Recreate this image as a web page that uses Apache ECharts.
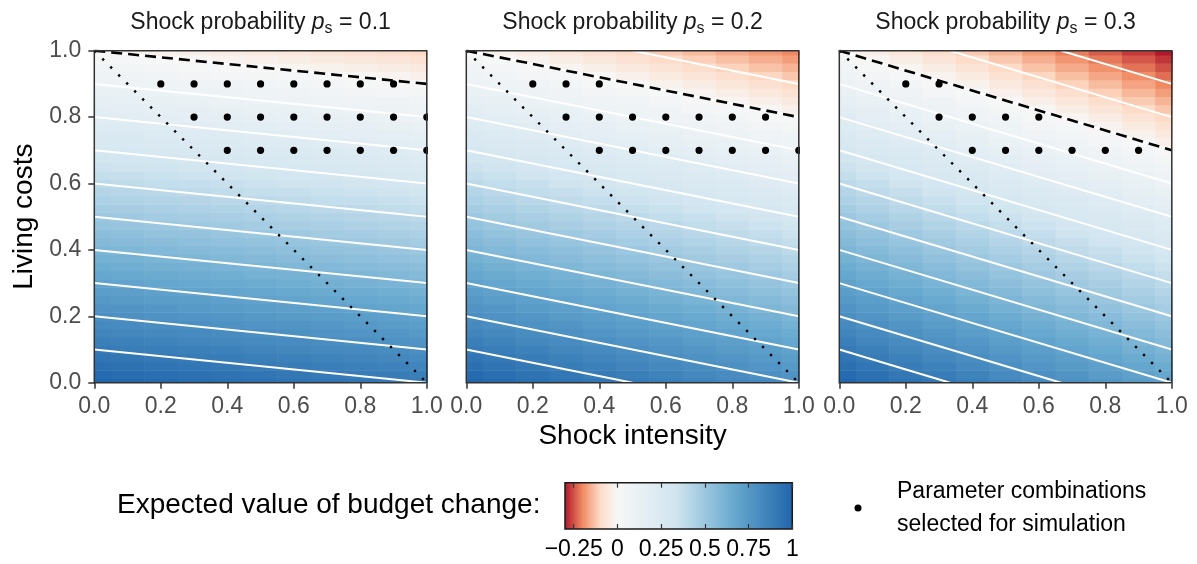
<!DOCTYPE html>
<html>
<head>
<meta charset="utf-8">
<script src="https://cdn.jsdelivr.net/npm/echarts@6/dist/echarts.min.js"></script>
<style>
  html, body { margin: 0; padding: 0; background: #fff; }
  #chart { width: 1197px; height: 564px; }
</style>
</head>
<body>
<div id="chart"></div>
<script>
var FONT = '"Liberation Sans", Arial, Helvetica, sans-serif';

// panels: shock probability
var shockProb = [0.1, 0.2, 0.3];

// grid of the heat map (x = shock intensity, y = living costs)
var shockIntensity = [0, 0.1, 0.2, 0.3, 0.4, 0.5, 0.6, 0.7, 0.8, 0.9, 1];
var livingCosts = [0, 0.025, 0.05, 0.075, 0.1, 0.125, 0.15, 0.175, 0.2, 0.225, 0.25,
                   0.275, 0.3, 0.325, 0.35, 0.375, 0.4, 0.425, 0.45, 0.475, 0.5,
                   0.525, 0.55, 0.575, 0.6, 0.625, 0.65, 0.675, 0.7, 0.725, 0.75,
                   0.775, 0.8, 0.825, 0.85, 0.875, 0.9, 0.925, 0.95, 0.975, 1];

// expected value of budget change, one row per living-costs value
var budgetChange1 = [
  [1.000, 0.990, 0.980, 0.970, 0.960, 0.950, 0.940, 0.930, 0.920, 0.910, 0.900],
  [0.975, 0.965, 0.955, 0.945, 0.935, 0.925, 0.915, 0.905, 0.895, 0.885, 0.875],
  [0.950, 0.940, 0.930, 0.920, 0.910, 0.900, 0.890, 0.880, 0.870, 0.860, 0.850],
  [0.925, 0.915, 0.905, 0.895, 0.885, 0.875, 0.865, 0.855, 0.845, 0.835, 0.825],
  [0.900, 0.890, 0.880, 0.870, 0.860, 0.850, 0.840, 0.830, 0.820, 0.810, 0.800],
  [0.875, 0.865, 0.855, 0.845, 0.835, 0.825, 0.815, 0.805, 0.795, 0.785, 0.775],
  [0.850, 0.840, 0.830, 0.820, 0.810, 0.800, 0.790, 0.780, 0.770, 0.760, 0.750],
  [0.825, 0.815, 0.805, 0.795, 0.785, 0.775, 0.765, 0.755, 0.745, 0.735, 0.725],
  [0.800, 0.790, 0.780, 0.770, 0.760, 0.750, 0.740, 0.730, 0.720, 0.710, 0.700],
  [0.775, 0.765, 0.755, 0.745, 0.735, 0.725, 0.715, 0.705, 0.695, 0.685, 0.675],
  [0.750, 0.740, 0.730, 0.720, 0.710, 0.700, 0.690, 0.680, 0.670, 0.660, 0.650],
  [0.725, 0.715, 0.705, 0.695, 0.685, 0.675, 0.665, 0.655, 0.645, 0.635, 0.625],
  [0.700, 0.690, 0.680, 0.670, 0.660, 0.650, 0.640, 0.630, 0.620, 0.610, 0.600],
  [0.675, 0.665, 0.655, 0.645, 0.635, 0.625, 0.615, 0.605, 0.595, 0.585, 0.575],
  [0.650, 0.640, 0.630, 0.620, 0.610, 0.600, 0.590, 0.580, 0.570, 0.560, 0.550],
  [0.625, 0.615, 0.605, 0.595, 0.585, 0.575, 0.565, 0.555, 0.545, 0.535, 0.525],
  [0.600, 0.590, 0.580, 0.570, 0.560, 0.550, 0.540, 0.530, 0.520, 0.510, 0.500],
  [0.575, 0.565, 0.555, 0.545, 0.535, 0.525, 0.515, 0.505, 0.495, 0.485, 0.475],
  [0.550, 0.540, 0.530, 0.520, 0.510, 0.500, 0.490, 0.480, 0.470, 0.460, 0.450],
  [0.525, 0.515, 0.505, 0.495, 0.485, 0.475, 0.465, 0.455, 0.445, 0.435, 0.425],
  [0.500, 0.490, 0.480, 0.470, 0.460, 0.450, 0.440, 0.430, 0.420, 0.410, 0.400],
  [0.475, 0.465, 0.455, 0.445, 0.435, 0.425, 0.415, 0.405, 0.395, 0.385, 0.375],
  [0.450, 0.440, 0.430, 0.420, 0.410, 0.400, 0.390, 0.380, 0.370, 0.360, 0.350],
  [0.425, 0.415, 0.405, 0.395, 0.385, 0.375, 0.365, 0.355, 0.345, 0.335, 0.325],
  [0.400, 0.390, 0.380, 0.370, 0.360, 0.350, 0.340, 0.330, 0.320, 0.310, 0.300],
  [0.375, 0.365, 0.355, 0.345, 0.335, 0.325, 0.315, 0.305, 0.295, 0.285, 0.275],
  [0.350, 0.340, 0.330, 0.320, 0.310, 0.300, 0.290, 0.280, 0.270, 0.260, 0.250],
  [0.325, 0.315, 0.305, 0.295, 0.285, 0.275, 0.265, 0.255, 0.245, 0.235, 0.225],
  [0.300, 0.290, 0.280, 0.270, 0.260, 0.250, 0.240, 0.230, 0.220, 0.210, 0.200],
  [0.275, 0.265, 0.255, 0.245, 0.235, 0.225, 0.215, 0.205, 0.195, 0.185, 0.175],
  [0.250, 0.240, 0.230, 0.220, 0.210, 0.200, 0.190, 0.180, 0.170, 0.160, 0.150],
  [0.225, 0.215, 0.205, 0.195, 0.185, 0.175, 0.165, 0.155, 0.145, 0.135, 0.125],
  [0.200, 0.190, 0.180, 0.170, 0.160, 0.150, 0.140, 0.130, 0.120, 0.110, 0.100],
  [0.175, 0.165, 0.155, 0.145, 0.135, 0.125, 0.115, 0.105, 0.095, 0.085, 0.075],
  [0.150, 0.140, 0.130, 0.120, 0.110, 0.100, 0.090, 0.080, 0.070, 0.060, 0.050],
  [0.125, 0.115, 0.105, 0.095, 0.085, 0.075, 0.065, 0.055, 0.045, 0.035, 0.025],
  [0.100, 0.090, 0.080, 0.070, 0.060, 0.050, 0.040, 0.030, 0.020, 0.010, 0.000],
  [0.075, 0.065, 0.055, 0.045, 0.035, 0.025, 0.015, 0.005, -0.005, -0.015, -0.025],
  [0.050, 0.040, 0.030, 0.020, 0.010, 0.000, -0.010, -0.020, -0.030, -0.040, -0.050],
  [0.025, 0.015, 0.005, -0.005, -0.015, -0.025, -0.035, -0.045, -0.055, -0.065, -0.075],
  [0.000, -0.010, -0.020, -0.030, -0.040, -0.050, -0.060, -0.070, -0.080, -0.090, -0.100]
];
var budgetChange2 = [
  [1.000, 0.980, 0.960, 0.940, 0.920, 0.900, 0.880, 0.860, 0.840, 0.820, 0.800],
  [0.975, 0.955, 0.935, 0.915, 0.895, 0.875, 0.855, 0.835, 0.815, 0.795, 0.775],
  [0.950, 0.930, 0.910, 0.890, 0.870, 0.850, 0.830, 0.810, 0.790, 0.770, 0.750],
  [0.925, 0.905, 0.885, 0.865, 0.845, 0.825, 0.805, 0.785, 0.765, 0.745, 0.725],
  [0.900, 0.880, 0.860, 0.840, 0.820, 0.800, 0.780, 0.760, 0.740, 0.720, 0.700],
  [0.875, 0.855, 0.835, 0.815, 0.795, 0.775, 0.755, 0.735, 0.715, 0.695, 0.675],
  [0.850, 0.830, 0.810, 0.790, 0.770, 0.750, 0.730, 0.710, 0.690, 0.670, 0.650],
  [0.825, 0.805, 0.785, 0.765, 0.745, 0.725, 0.705, 0.685, 0.665, 0.645, 0.625],
  [0.800, 0.780, 0.760, 0.740, 0.720, 0.700, 0.680, 0.660, 0.640, 0.620, 0.600],
  [0.775, 0.755, 0.735, 0.715, 0.695, 0.675, 0.655, 0.635, 0.615, 0.595, 0.575],
  [0.750, 0.730, 0.710, 0.690, 0.670, 0.650, 0.630, 0.610, 0.590, 0.570, 0.550],
  [0.725, 0.705, 0.685, 0.665, 0.645, 0.625, 0.605, 0.585, 0.565, 0.545, 0.525],
  [0.700, 0.680, 0.660, 0.640, 0.620, 0.600, 0.580, 0.560, 0.540, 0.520, 0.500],
  [0.675, 0.655, 0.635, 0.615, 0.595, 0.575, 0.555, 0.535, 0.515, 0.495, 0.475],
  [0.650, 0.630, 0.610, 0.590, 0.570, 0.550, 0.530, 0.510, 0.490, 0.470, 0.450],
  [0.625, 0.605, 0.585, 0.565, 0.545, 0.525, 0.505, 0.485, 0.465, 0.445, 0.425],
  [0.600, 0.580, 0.560, 0.540, 0.520, 0.500, 0.480, 0.460, 0.440, 0.420, 0.400],
  [0.575, 0.555, 0.535, 0.515, 0.495, 0.475, 0.455, 0.435, 0.415, 0.395, 0.375],
  [0.550, 0.530, 0.510, 0.490, 0.470, 0.450, 0.430, 0.410, 0.390, 0.370, 0.350],
  [0.525, 0.505, 0.485, 0.465, 0.445, 0.425, 0.405, 0.385, 0.365, 0.345, 0.325],
  [0.500, 0.480, 0.460, 0.440, 0.420, 0.400, 0.380, 0.360, 0.340, 0.320, 0.300],
  [0.475, 0.455, 0.435, 0.415, 0.395, 0.375, 0.355, 0.335, 0.315, 0.295, 0.275],
  [0.450, 0.430, 0.410, 0.390, 0.370, 0.350, 0.330, 0.310, 0.290, 0.270, 0.250],
  [0.425, 0.405, 0.385, 0.365, 0.345, 0.325, 0.305, 0.285, 0.265, 0.245, 0.225],
  [0.400, 0.380, 0.360, 0.340, 0.320, 0.300, 0.280, 0.260, 0.240, 0.220, 0.200],
  [0.375, 0.355, 0.335, 0.315, 0.295, 0.275, 0.255, 0.235, 0.215, 0.195, 0.175],
  [0.350, 0.330, 0.310, 0.290, 0.270, 0.250, 0.230, 0.210, 0.190, 0.170, 0.150],
  [0.325, 0.305, 0.285, 0.265, 0.245, 0.225, 0.205, 0.185, 0.165, 0.145, 0.125],
  [0.300, 0.280, 0.260, 0.240, 0.220, 0.200, 0.180, 0.160, 0.140, 0.120, 0.100],
  [0.275, 0.255, 0.235, 0.215, 0.195, 0.175, 0.155, 0.135, 0.115, 0.095, 0.075],
  [0.250, 0.230, 0.210, 0.190, 0.170, 0.150, 0.130, 0.110, 0.090, 0.070, 0.050],
  [0.225, 0.205, 0.185, 0.165, 0.145, 0.125, 0.105, 0.085, 0.065, 0.045, 0.025],
  [0.200, 0.180, 0.160, 0.140, 0.120, 0.100, 0.080, 0.060, 0.040, 0.020, 0.000],
  [0.175, 0.155, 0.135, 0.115, 0.095, 0.075, 0.055, 0.035, 0.015, -0.005, -0.025],
  [0.150, 0.130, 0.110, 0.090, 0.070, 0.050, 0.030, 0.010, -0.010, -0.030, -0.050],
  [0.125, 0.105, 0.085, 0.065, 0.045, 0.025, 0.005, -0.015, -0.035, -0.055, -0.075],
  [0.100, 0.080, 0.060, 0.040, 0.020, 0.000, -0.020, -0.040, -0.060, -0.080, -0.100],
  [0.075, 0.055, 0.035, 0.015, -0.005, -0.025, -0.045, -0.065, -0.085, -0.105, -0.125],
  [0.050, 0.030, 0.010, -0.010, -0.030, -0.050, -0.070, -0.090, -0.110, -0.130, -0.150],
  [0.025, 0.005, -0.015, -0.035, -0.055, -0.075, -0.095, -0.115, -0.135, -0.155, -0.175],
  [0.000, -0.020, -0.040, -0.060, -0.080, -0.100, -0.120, -0.140, -0.160, -0.180, -0.200]
];
var budgetChange3 = [
  [1.000, 0.970, 0.940, 0.910, 0.880, 0.850, 0.820, 0.790, 0.760, 0.730, 0.700],
  [0.975, 0.945, 0.915, 0.885, 0.855, 0.825, 0.795, 0.765, 0.735, 0.705, 0.675],
  [0.950, 0.920, 0.890, 0.860, 0.830, 0.800, 0.770, 0.740, 0.710, 0.680, 0.650],
  [0.925, 0.895, 0.865, 0.835, 0.805, 0.775, 0.745, 0.715, 0.685, 0.655, 0.625],
  [0.900, 0.870, 0.840, 0.810, 0.780, 0.750, 0.720, 0.690, 0.660, 0.630, 0.600],
  [0.875, 0.845, 0.815, 0.785, 0.755, 0.725, 0.695, 0.665, 0.635, 0.605, 0.575],
  [0.850, 0.820, 0.790, 0.760, 0.730, 0.700, 0.670, 0.640, 0.610, 0.580, 0.550],
  [0.825, 0.795, 0.765, 0.735, 0.705, 0.675, 0.645, 0.615, 0.585, 0.555, 0.525],
  [0.800, 0.770, 0.740, 0.710, 0.680, 0.650, 0.620, 0.590, 0.560, 0.530, 0.500],
  [0.775, 0.745, 0.715, 0.685, 0.655, 0.625, 0.595, 0.565, 0.535, 0.505, 0.475],
  [0.750, 0.720, 0.690, 0.660, 0.630, 0.600, 0.570, 0.540, 0.510, 0.480, 0.450],
  [0.725, 0.695, 0.665, 0.635, 0.605, 0.575, 0.545, 0.515, 0.485, 0.455, 0.425],
  [0.700, 0.670, 0.640, 0.610, 0.580, 0.550, 0.520, 0.490, 0.460, 0.430, 0.400],
  [0.675, 0.645, 0.615, 0.585, 0.555, 0.525, 0.495, 0.465, 0.435, 0.405, 0.375],
  [0.650, 0.620, 0.590, 0.560, 0.530, 0.500, 0.470, 0.440, 0.410, 0.380, 0.350],
  [0.625, 0.595, 0.565, 0.535, 0.505, 0.475, 0.445, 0.415, 0.385, 0.355, 0.325],
  [0.600, 0.570, 0.540, 0.510, 0.480, 0.450, 0.420, 0.390, 0.360, 0.330, 0.300],
  [0.575, 0.545, 0.515, 0.485, 0.455, 0.425, 0.395, 0.365, 0.335, 0.305, 0.275],
  [0.550, 0.520, 0.490, 0.460, 0.430, 0.400, 0.370, 0.340, 0.310, 0.280, 0.250],
  [0.525, 0.495, 0.465, 0.435, 0.405, 0.375, 0.345, 0.315, 0.285, 0.255, 0.225],
  [0.500, 0.470, 0.440, 0.410, 0.380, 0.350, 0.320, 0.290, 0.260, 0.230, 0.200],
  [0.475, 0.445, 0.415, 0.385, 0.355, 0.325, 0.295, 0.265, 0.235, 0.205, 0.175],
  [0.450, 0.420, 0.390, 0.360, 0.330, 0.300, 0.270, 0.240, 0.210, 0.180, 0.150],
  [0.425, 0.395, 0.365, 0.335, 0.305, 0.275, 0.245, 0.215, 0.185, 0.155, 0.125],
  [0.400, 0.370, 0.340, 0.310, 0.280, 0.250, 0.220, 0.190, 0.160, 0.130, 0.100],
  [0.375, 0.345, 0.315, 0.285, 0.255, 0.225, 0.195, 0.165, 0.135, 0.105, 0.075],
  [0.350, 0.320, 0.290, 0.260, 0.230, 0.200, 0.170, 0.140, 0.110, 0.080, 0.050],
  [0.325, 0.295, 0.265, 0.235, 0.205, 0.175, 0.145, 0.115, 0.085, 0.055, 0.025],
  [0.300, 0.270, 0.240, 0.210, 0.180, 0.150, 0.120, 0.090, 0.060, 0.030, 0.000],
  [0.275, 0.245, 0.215, 0.185, 0.155, 0.125, 0.095, 0.065, 0.035, 0.005, -0.025],
  [0.250, 0.220, 0.190, 0.160, 0.130, 0.100, 0.070, 0.040, 0.010, -0.020, -0.050],
  [0.225, 0.195, 0.165, 0.135, 0.105, 0.075, 0.045, 0.015, -0.015, -0.045, -0.075],
  [0.200, 0.170, 0.140, 0.110, 0.080, 0.050, 0.020, -0.010, -0.040, -0.070, -0.100],
  [0.175, 0.145, 0.115, 0.085, 0.055, 0.025, -0.005, -0.035, -0.065, -0.095, -0.125],
  [0.150, 0.120, 0.090, 0.060, 0.030, 0.000, -0.030, -0.060, -0.090, -0.120, -0.150],
  [0.125, 0.095, 0.065, 0.035, 0.005, -0.025, -0.055, -0.085, -0.115, -0.145, -0.175],
  [0.100, 0.070, 0.040, 0.010, -0.020, -0.050, -0.080, -0.110, -0.140, -0.170, -0.200],
  [0.075, 0.045, 0.015, -0.015, -0.045, -0.075, -0.105, -0.135, -0.165, -0.195, -0.225],
  [0.050, 0.020, -0.010, -0.040, -0.070, -0.100, -0.130, -0.160, -0.190, -0.220, -0.250],
  [0.025, -0.005, -0.035, -0.065, -0.095, -0.125, -0.155, -0.185, -0.215, -0.245, -0.275],
  [0.000, -0.030, -0.060, -0.090, -0.120, -0.150, -0.180, -0.210, -0.240, -0.270, -0.300]
];

// white contour lines (every 0.1), as [start, end] in data units
var contours1 = [
  [[0, 0.1], [1, 0.0]], [[0, 0.2], [1, 0.1]], [[0, 0.3], [1, 0.2]],
  [[0, 0.4], [1, 0.3]], [[0, 0.5], [1, 0.4]], [[0, 0.6], [1, 0.5]],
  [[0, 0.7], [1, 0.6]], [[0, 0.8], [1, 0.7]], [[0, 0.9], [1, 0.8]],
  [[0, 1.0], [1, 0.9]]
];
var contours2 = [
  [[0, 0.1], [0.5, 0.0]], [[0, 0.2], [1, 0.0]], [[0, 0.3], [1, 0.1]],
  [[0, 0.4], [1, 0.2]], [[0, 0.5], [1, 0.3]], [[0, 0.6], [1, 0.4]],
  [[0, 0.7], [1, 0.5]], [[0, 0.8], [1, 0.6]], [[0, 0.9], [1, 0.7]],
  [[0, 1.0], [1, 0.8]], [[0.5, 1.0], [1, 0.9]]
];
var contours3 = [
  [[0, 0.1], [0.333, 0.0]], [[0, 0.2], [0.667, 0.0]], [[0, 0.3], [1, 0.0]],
  [[0, 0.4], [1, 0.1]], [[0, 0.5], [1, 0.2]], [[0, 0.6], [1, 0.3]],
  [[0, 0.7], [1, 0.4]], [[0, 0.8], [1, 0.5]], [[0, 0.9], [1, 0.6]],
  [[0, 1.0], [1, 0.7]], [[0.333, 1.0], [1, 0.8]], [[0.667, 1.0], [1, 0.9]]
];

// zero line (dashed) and the diagonal (dotted)
var zeroLine1 = [[0, 1], [1, 0.9]];
var zeroLine2 = [[0, 1], [1, 0.8]];
var zeroLine3 = [[0, 1], [1, 0.7]];
var diagonal = [[0, 1], [1, 0]];

// parameter combinations selected for simulation: [shock intensity, living costs]
var selected1 = [
  [0.2, 0.9], [0.3, 0.9], [0.4, 0.9], [0.5, 0.9], [0.6, 0.9], [0.7, 0.9], [0.8, 0.9], [0.9, 0.9],
  [0.3, 0.8], [0.4, 0.8], [0.5, 0.8], [0.6, 0.8], [0.7, 0.8], [0.8, 0.8], [0.9, 0.8], [1.0, 0.8],
  [0.4, 0.7], [0.5, 0.7], [0.6, 0.7], [0.7, 0.7], [0.8, 0.7], [0.9, 0.7], [1.0, 0.7]
];
var selected2 = [
  [0.2, 0.9], [0.3, 0.9], [0.4, 0.9],
  [0.3, 0.8], [0.4, 0.8], [0.5, 0.8], [0.6, 0.8], [0.7, 0.8], [0.8, 0.8], [0.9, 0.8],
  [0.4, 0.7], [0.5, 0.7], [0.6, 0.7], [0.7, 0.7], [0.8, 0.7], [0.9, 0.7], [1.0, 0.7]
];
var selected3 = [
  [0.2, 0.9], [0.3, 0.9],
  [0.3, 0.8], [0.4, 0.8], [0.5, 0.8], [0.6, 0.8],
  [0.4, 0.7], [0.5, 0.7], [0.6, 0.7], [0.7, 0.7], [0.8, 0.7], [0.9, 0.7]
];

// colour bar ticks
var barTicks = [-0.25, 0, 0.25, 0.5, 0.75, 1];

var budgetChange = [budgetChange1, budgetChange2, budgetChange3];
var contours = [contours1, contours2, contours3];
var zeroLines = [zeroLine1, zeroLine2, zeroLine3];
var selected = [selected1, selected2, selected3];

var POINT_NAME = 'Parameter combinations\nselected for simulation';

// RdBu scale, white at 0
var scaleMin = -0.3, scaleMax = 1;
var stopVals = [-0.3, -0.2, -0.1, 0, 1 / 3, 2 / 3, 1];
var stopCols = ['#b2182b', '#ef8a62', '#fddbc7', '#f7f7f7', '#d1e5f0', '#67a9cf', '#2166ac'];

function colourAt(v) {
  for (var i = 0; i < stopVals.length - 1; i++) {
    if (v <= stopVals[i + 1] + 1e-9) {
      var t = (v - stopVals[i]) / (stopVals[i + 1] - stopVals[i]);
      return echarts.color.lerp(Math.max(0, Math.min(1, t)), [stopCols[i], stopCols[i + 1]]);
    }
  }
  return stopCols[stopCols.length - 1];
}
var ramp = [];
for (var k = 0; k <= 39; k++) ramp.push(colourAt(scaleMin + k * (scaleMax - scaleMin) / 39));

var CELL = [0.1, 0.025];
function renderCell(params, api) {
  var pt = api.coord([api.value(0), api.value(1)]);
  var size = api.size(CELL);
  return {
    type: 'rect',
    shape: { x: pt[0] - size[0] / 2, y: pt[1] - size[1] / 2, width: size[0] + 0.6, height: size[1] + 0.6 },
    style: { fill: api.visual('color') }
  };
}
function renderPoint(params, api) {
  var pt = api.coord([api.value(0), api.value(1)]);
  return { type: 'circle', shape: { cx: pt[0], cy: pt[1], r: 3.6 }, style: { fill: '#000' } };
}
function renderBar(params, api) {
  var r = params.coordSys;
  var stops = stopVals.map(function (v, i) {
    return { offset: (v - scaleMin) / (scaleMax - scaleMin), color: stopCols[i] };
  });
  return {
    type: 'rect',
    shape: { x: r.x, y: r.y, width: r.width, height: r.height },
    style: { fill: new echarts.graphic.LinearGradient(0, 0, 1, 0, stops) }
  };
}

var panelLeft = [94.3, 466.3, 839.3];
var panelTop = 50.7, panelW = 332.5, panelH = 332;

var grids = [], xAxes = [], yAxes = [], titles = [], series = [];
var heatSeries = [];

for (var p = 0; p < 3; p++) {
  grids.push({
    left: panelLeft[p], top: panelTop, width: panelW, height: panelH,
    show: true, backgroundColor: 'transparent', borderColor: '#333', borderWidth: 1.5, z: 10
  });
  xAxes.push({
    gridIndex: p, type: 'value', min: 0, max: 1, interval: 0.2,
    axisLine: { show: false, onZero: false },
    axisTick: { length: 6, lineStyle: { color: '#333', width: 1.5 } },
    axisLabel: {
      fontFamily: FONT, fontSize: 23, color: '#4d4d4d', margin: 12,
      formatter: function (v) { return v.toFixed(1); }
    },
    splitLine: { show: false },
    name: p === 1 ? 'Shock intensity' : '',
    nameLocation: 'middle', nameGap: 39,
    nameTextStyle: { fontFamily: FONT, fontSize: 28, color: '#000' }
  });
  yAxes.push({
    gridIndex: p, type: 'value', min: 0, max: 1, interval: 0.2,
    axisLine: { show: false, onZero: false },
    axisTick: { show: p === 0, length: 6, lineStyle: { color: '#333', width: 1.5 } },
    axisLabel: {
      show: p === 0, fontFamily: FONT, fontSize: 23, color: '#4d4d4d', margin: 13,
      formatter: function (v) { return v.toFixed(1); }
    },
    splitLine: { show: false },
    name: p === 0 ? 'Living costs' : '',
    nameLocation: 'middle', nameGap: 56,
    nameTextStyle: { fontFamily: FONT, fontSize: 28, color: '#000' }
  });
  titles.push({
    text: 'Shock probability {i|p}{s|s} = ' + shockProb[p],
    left: panelLeft[p] + panelW / 2, top: 9, textAlign: 'center', padding: 0,
    textStyle: {
      fontFamily: FONT, fontSize: 23, fontWeight: 'normal', color: '#1a1a1a', lineHeight: 28,
      rich: {
        i: { fontFamily: FONT, fontSize: 23, fontStyle: 'italic', color: '#1a1a1a', lineHeight: 28 },
        s: { fontFamily: FONT, fontSize: 16, color: '#1a1a1a', verticalAlign: 'bottom' }
      }
    }
  });

  var cells = [];
  for (var r = 0; r < livingCosts.length; r++) {
    for (var c = 0; c < shockIntensity.length; c++) {
      cells.push([shockIntensity[c], livingCosts[r], budgetChange[p][r][c]]);
    }
  }
  heatSeries.push({
    type: 'custom', xAxisIndex: p, yAxisIndex: p, clip: true, silent: true, z: 1,
    dimensions: ['s', 'c', 'E'], encode: { x: 0, y: 1 },
    data: cells, renderItem: renderCell
  });

  series.push({
    type: 'lines', coordinateSystem: 'cartesian2d', xAxisIndex: p, yAxisIndex: p, silent: true, z: 3,
    data: contours[p].map(function (seg) { return { coords: seg }; }),
    lineStyle: { color: '#fff', width: 2, opacity: 1 }
  });
  series.push({
    type: 'lines', coordinateSystem: 'cartesian2d', xAxisIndex: p, yAxisIndex: p, silent: true, z: 4,
    data: [{ coords: diagonal }],
    lineStyle: { color: '#000', width: 2.4, opacity: 1, type: [2.4, 8.9] }
  });
  series.push({
    type: 'lines', coordinateSystem: 'cartesian2d', xAxisIndex: p, yAxisIndex: p, silent: true, z: 5,
    data: [{ coords: zeroLines[p] }],
    lineStyle: { color: '#000', width: 2.6, opacity: 1, type: [11, 6] }
  });
  series.push({
    type: 'custom', name: POINT_NAME, xAxisIndex: p, yAxisIndex: p, clip: true, silent: true, z: 6,
    encode: { x: 0, y: 1 }, itemStyle: { color: '#000' },
    data: selected[p], renderItem: renderPoint
  });
}

// colour bar
grids.push({
  left: 565, top: 482.7, width: 227.3, height: 46.3,
  show: true, backgroundColor: 'transparent', borderColor: '#1a1a1a', borderWidth: 1.5, z: 10
});
xAxes.push({
  gridIndex: 3, type: 'value', min: scaleMin, max: scaleMax, position: 'bottom', z: 11,
  axisLine: { show: false, onZero: false },
  axisTick: { customValues: barTicks, inside: true, length: 5, lineStyle: { color: '#333', width: 1.2 } },
  axisLabel: {
    customValues: barTicks, fontFamily: FONT, fontSize: 23, color: '#000', margin: 9,
    formatter: function (v) { return v < 0 ? '\u2212' + Math.abs(v) : String(v); }
  },
  splitLine: { show: false }
});
xAxes.push({
  gridIndex: 3, type: 'value', min: scaleMin, max: scaleMax, position: 'top', z: 11,
  axisLine: { show: false, onZero: false },
  axisTick: { customValues: barTicks, inside: true, length: 5, lineStyle: { color: '#333', width: 1.2 } },
  axisLabel: { show: false },
  splitLine: { show: false }
});
yAxes.push({ gridIndex: 3, type: 'value', min: 0, max: 1, show: false });

series.push({
  type: 'custom', xAxisIndex: 3, yAxisIndex: 3, silent: true, z: 1,
  encode: { x: 0, y: 1 }, data: [[0, 0.5]], renderItem: renderBar
});

titles.push({
  text: 'Expected value of budget change:', left: 117, top: 491, padding: 0,
  textStyle: { fontFamily: FONT, fontSize: 28, fontWeight: 'normal', color: '#000', lineHeight: 28 }
});

var chart = echarts.init(document.getElementById('chart'), null, { renderer: 'canvas' });
chart.setOption({
  animation: false,
  backgroundColor: '#fff',
  title: titles,
  grid: grids,
  xAxis: xAxes,
  yAxis: yAxes,
  visualMap: {
    show: false, type: 'continuous', min: scaleMin, max: scaleMax,
    dimension: 2, seriesIndex: [0, 1, 2],
    inRange: { color: ramp }
  },
  legend: {
    data: [{ name: POINT_NAME, icon: 'circle' }],
    left: 854.5, top: 475, padding: 0, itemWidth: 68, itemHeight: 7,
    selectedMode: false, itemStyle: { color: '#000' },
    textStyle: { fontFamily: FONT, fontSize: 23, lineHeight: 33, color: '#000' }
  },
  series: heatSeries.concat(series)
});
</script>
</body>
</html>
